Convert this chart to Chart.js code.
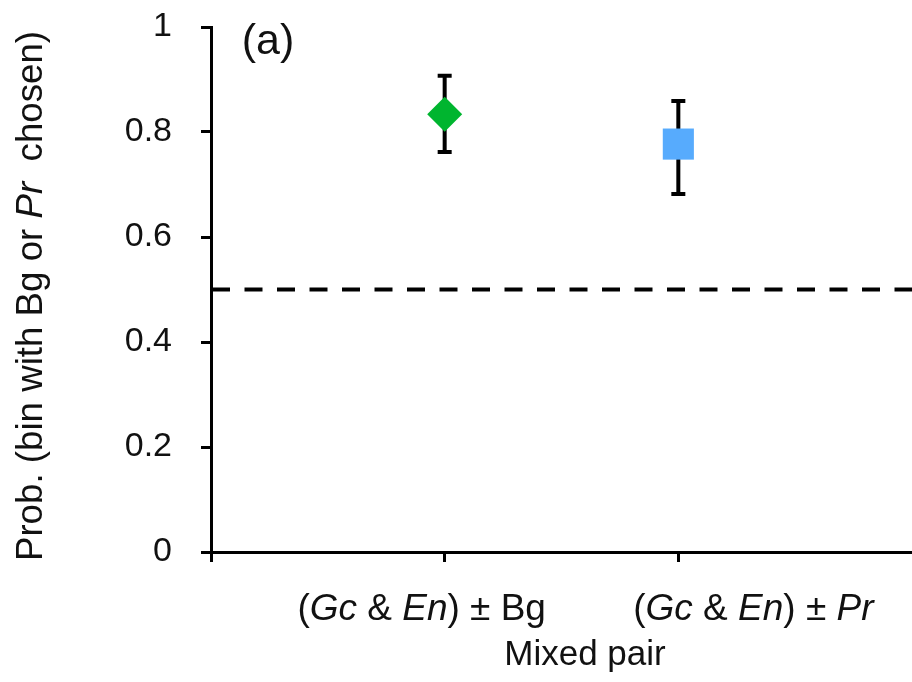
<!DOCTYPE html>
<html>
<head>
<meta charset="utf-8">
<script src="https://cdn.jsdelivr.net/npm/chart.js@4.4.1/dist/chart.umd.min.js"></script>
<style>
    html, body { margin: 0; padding: 0; background: #fff; }
    #wrap { width: 912px; height: 682px; }
</style>
</head>
<body>
<div id="wrap"><canvas id="myChart"></canvas></div>
<script>
// words between * * are drawn in italics
const categories = ['(*Gc* & *En*) ± Bg', '(*Gc* & *En*) ± *Pr*'];
const xPositions = [1, 2];
const meanValues = [0.834, 0.777];
const lowerValues = [0.762, 0.682];
const upperValues = [0.907, 0.859];
const yTicks = [0, 0.2, 0.4, 0.6, 0.8, 1];
const chanceLevel = 0.5;

const FONT = "'Liberation Sans', Arial, sans-serif";
const TEXT = '#111';

function drawRich(ctx, text, cx, y, size) {
    const parts = text.split('*');
    const widths = parts.map((p, i) => {
        ctx.font = (i % 2 ? 'italic ' : '') + size + 'px ' + FONT;
        return ctx.measureText(p).width;
    });
    let x = cx - widths.reduce((a, b) => a + b, 0) / 2;
    parts.forEach((p, i) => {
        ctx.font = (i % 2 ? 'italic ' : '') + size + 'px ' + FONT;
        ctx.fillText(p, x, y);
        x += widths[i];
    });
}

// error bars, drawn under the markers
const errorBars = {
    id: 'errorBars',
    beforeDatasetsDraw(chart) {
        const { ctx, scales: { x, y } } = chart;
        ctx.save();
        ctx.strokeStyle = '#000';
        ctx.lineWidth = 4;
        xPositions.forEach((xv, i) => {
            const px = x.getPixelForValue(xv);
            const top = y.getPixelForValue(upperValues[i]);
            const bot = y.getPixelForValue(lowerValues[i]);
            ctx.beginPath();
            ctx.moveTo(px, top);
            ctx.lineTo(px, bot);
            ctx.moveTo(px - 7, top);
            ctx.lineTo(px + 7, top);
            ctx.moveTo(px - 7, bot);
            ctx.lineTo(px + 7, bot);
            ctx.stroke();
        });
        ctx.restore();
    }
};

// category labels, axis titles and panel letter
const textLayer = {
    id: 'textLayer',
    afterDraw(chart) {
        const { ctx, scales: { x } } = chart;
        const shifts = [-23, 75];
        ctx.save();
        ctx.fillStyle = TEXT;
        ctx.textAlign = 'left';
        ctx.textBaseline = 'alphabetic';
        categories.forEach((c, i) => {
            drawRich(ctx, c, x.getPixelForValue(xPositions[i]) + shifts[i], 620, 37);
        });
        drawRich(ctx, 'Mixed pair', 585, 665, 35);
        drawRich(ctx, '(a)', 268, 54, 43);

        ctx.translate(42, 296);
        ctx.rotate(-Math.PI / 2);
        drawRich(ctx, 'Prob. (bin with Bg or *Pr*  chosen)', 0, 0, 36.7);
        ctx.restore();
    }
};

let ctx = document.getElementById('myChart');

let myChart = new Chart(ctx, {
    type: 'scatter',
    data: {
        datasets: [{
            label: 'means',
            data: xPositions.map((xv, i) => ({ x: xv, y: meanValues[i] })),
            pointStyle: ['rectRot', 'rect'],
            pointRadius: [17.5, 22],
            backgroundColor: ['#00b52f', '#57abfd'],
            borderWidth: 0,
            clip: false
        }, {
            type: 'line',
            label: 'chance',
            data: [{ x: 0, y: chanceLevel }, { x: 3, y: chanceLevel }],
            borderColor: '#000',
            borderWidth: 4,
            borderDash: [18, 14.5],
            borderDashOffset: -1,
            pointRadius: 0,
            fill: false
        }]
    },
    options: {
        responsive: true,
        maintainAspectRatio: false,
        animation: false,
        layout: {
            autoPadding: false,
            padding: { top: 27, right: 0, bottom: 0, left: 0 }
        },
        scales: {
            x: {
                type: 'linear',
                min: 0,
                max: 3,
                afterBuildTicks: s => { s.ticks = s.ticks.filter(t => t.value < 3); },
                afterFit: s => { s.height = 130; s.paddingLeft = 0; s.paddingRight = 0; },
                ticks: { stepSize: 1, callback: () => '' },
                grid: { drawOnChartArea: false, tickLength: 10, tickWidth: 3, tickColor: '#000' },
                border: { color: '#000', width: 3 }
            },
            y: {
                min: 0,
                max: 1,
                afterBuildTicks: s => { s.ticks = yTicks.map(v => ({ value: v })); },
                afterFit: s => { s.width = 211; s.paddingTop = 0; s.paddingBottom = 0; },
                ticks: {
                    padding: 29,
                    color: TEXT,
                    font: { family: FONT, size: 34 },
                    callback: v => String(v)
                },
                grid: { drawOnChartArea: false, tickLength: 10, tickWidth: 3, tickColor: '#000' },
                border: { color: '#000', width: 3 }
            }
        },
        plugins: {
            legend: { display: false },
            tooltip: { enabled: false }
        }
    },
    plugins: [errorBars, textLayer]
});
</script>
</body>
</html>
